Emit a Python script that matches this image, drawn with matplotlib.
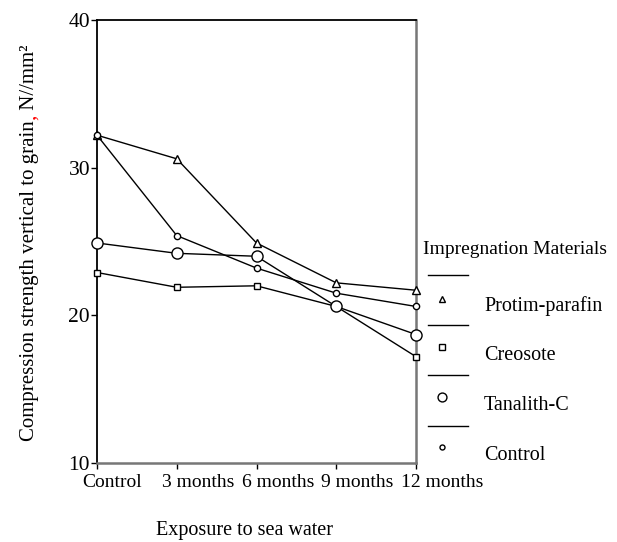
import matplotlib
matplotlib.use("Agg")
import matplotlib.pyplot as plt
import matplotlib.transforms as mtransforms
from matplotlib.lines import Line2D

plt.rcParams['font.family'] = ['Liberation Serif', 'DejaVu Serif']

categories = ["Control", "3 months", "6 months", "9 months", "12 months"]
series_names = ["Protim-parafin", "Creosote", "Tanalith-C", "Control"]
protim = [32.2, 30.6, 24.9, 22.2, 21.7]
creosote = [22.9, 21.9, 22.0, 20.6, 17.2]
tanalith = [24.9, 24.2, 24.0, 20.6, 18.7]
control = [32.2, 25.4, 23.2, 21.5, 20.6]
yticks = [10, 20, 30, 40]

series = [protim, creosote, tanalith, control]
markers = ['^', 's', 'o', 'o']
msizes = [6, 5, 8, 4.5]

W, H = 617, 542
fig = plt.figure(figsize=(W / 100, H / 100), dpi=100)
ax = fig.add_axes([97 / W, 1 - 463 / H, (416 - 97) / W, (463 - 20) / H])

x = list(range(len(categories)))
for vals, m, ms in zip(series, markers, msizes):
    ax.plot(x, vals, color='black', lw=1.0, marker=m, ms=ms,
            mfc='white', mec='black', mew=1.0, clip_on=False, zorder=3)

ax.set_xlim(0, len(categories) - 1)
ax.set_ylim(10, 40)
ax.set_yticks(yticks)
ax.set_yticklabels([str(v) for v in yticks], fontsize=15.5)
ax.set_xticks(x)
ax.set_xticklabels(categories, fontsize=14)
ax.tick_params(axis='both', direction='out', length=4, width=1)
ax.tick_params(axis='y', pad=1)
ax.tick_params(axis='x', pad=4)
offset = mtransforms.ScaledTranslation(-15 / 100, 0, fig.dpi_scale_trans)
for lab in ax.get_xticklabels():
    lab.set_ha('left')
    lab.set_transform(lab.get_transform() + offset)
for s in ['left', 'top']:
    ax.spines[s].set_linewidth(1.3)
    ax.spines[s].set_color('black')
for s in ['right', 'bottom']:
    ax.spines[s].set_linewidth(1.8)
    ax.spines[s].set_color('#777777')

# y label with red comma
YFS = 15
t1 = fig.text(30 / W, 1 - 441 / H, "Compression strength vertical to grain",
              rotation=90, ha='center', va='bottom', fontsize=YFS)
t2 = fig.text(0, 0, ",", rotation=90, fontsize=YFS, color='red')
fig.canvas.draw()
r = fig.canvas.get_renderer()
bb1 = t1.get_window_extent(r)
t2.set_position((bb1.x0 / W, bb1.y1 / H))
t2.set_ha('left'); t2.set_va('bottom')
fig.canvas.draw()
bb2 = t2.get_window_extent(r)
t3 = fig.text(bb1.x0 / W, bb2.y1 / H, " N//mm\u00b2", rotation=90,
              ha='left', va='bottom', fontsize=YFS)

fig.text(245 / W, 1 - 530 / H, "Exposure to sea water", ha='center',
         va='center', fontsize=14.5)

# custom legend
fig.text(423 / W, 1 - 249 / H, "Impregnation Materials", ha='left',
         va='center', fontsize=14)
line_y = [275, 325, 375, 426]
mark_y = [299, 347, 397, 447]
lab_y = [306, 356, 405, 455]
for i, name in enumerate(series_names):
    fig.add_artist(Line2D([428 / W, 468 / W], [1 - line_y[i] / H] * 2,
                          color='black', lw=1.0, transform=fig.transFigure))
    fig.add_artist(Line2D([442 / W], [1 - mark_y[i] / H], marker=markers[i],
                          ms=msizes[i] * 0.8, mfc='white', mec='black', mew=1.0,
                          lw=0, transform=fig.transFigure))
    fig.text(484 / W, 1 - lab_y[i] / H, name, ha='left', va='center',
             fontsize=14.5)

fig.savefig("out.png", dpi=100)
